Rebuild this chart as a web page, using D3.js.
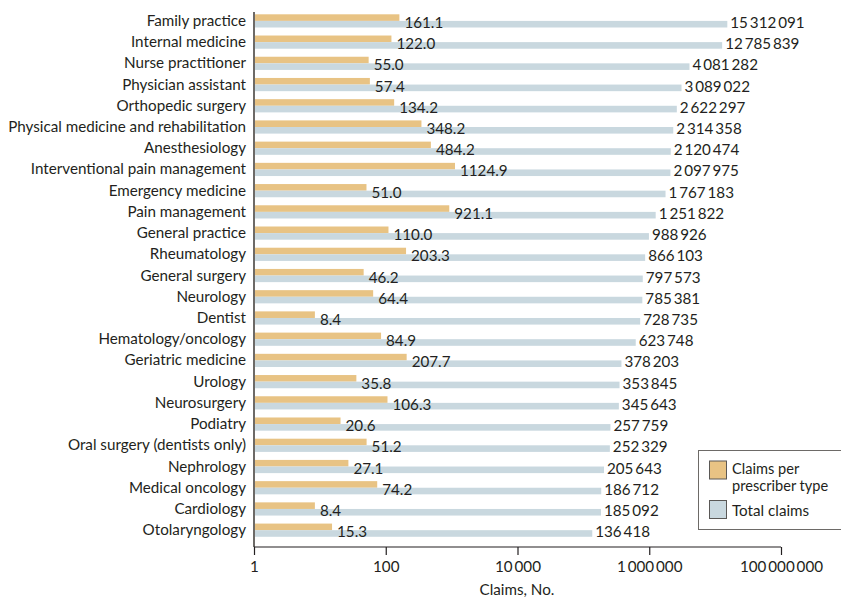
<!DOCTYPE html>
<html>
<head>
<meta charset="utf-8">
<script src="https://cdn.jsdelivr.net/npm/d3@7.9.0/dist/d3.min.js"></script>
<style>
  body { margin: 0; background: #fff; }
  svg { display: block; font-family: Lato, sans-serif; }
  text { fill: #231f20; }
</style>
</head>
<body>
<div id="chart"></div>
<script>
const categories = [
  'Family practice', 'Internal medicine', 'Nurse practitioner', 'Physician assistant',
  'Orthopedic surgery', 'Physical medicine and rehabilitation', 'Anesthesiology',
  'Interventional pain management', 'Emergency medicine', 'Pain management',
  'General practice', 'Rheumatology', 'General surgery', 'Neurology', 'Dentist',
  'Hematology/oncology', 'Geriatric medicine', 'Urology', 'Neurosurgery', 'Podiatry',
  'Oral surgery (dentists only)', 'Nephrology', 'Medical oncology', 'Cardiology',
  'Otolaryngology'
];
const claimsPerPrescriber = [
  161.1, 122.0, 55.0, 57.4, 134.2, 348.2, 484.2, 1124.9, 51.0, 921.1,
  110.0, 203.3, 46.2, 64.4, 8.4, 84.9, 207.7, 35.8, 106.3, 20.6,
  51.2, 27.1, 74.2, 8.4, 15.3
];
const totalClaims = [
  15312091, 12785839, 4081282, 3089022, 2622297, 2314358, 2120474, 2097975, 1767183, 1251822,
  988926, 866103, 797573, 785381, 728735, 623748, 378203, 353845, 345643, 257759,
  252329, 205643, 186712, 185092, 136418
];
const tickValues = [1, 100, 10000, 1000000, 100000000];
const seriesNames = ['Claims per|prescriber type', 'Total claims'];

const data = categories.map((c, i) => ({
  name: c, per: claimsPerPrescriber[i], total: totalClaims[i]
}));

const width = 841, height = 598;
const orange = '#e8c384', grey = '#c9d8df';
const fs = 15.2;

// thousands with thin spaces
const fmtInt = (v) => d3.format(',')(v).replace(/,/g, '\u2009');

const svg = d3.select('#chart').append('svg')
  .attr('width', width).attr('height', height);

const x = d3.scaleLog().domain([1, 1e8]).range([254, 781]);
const y = d3.scaleBand().domain(categories).range([10.5, 541]).paddingInner(0);

const barH = 6.6;
const rowTop = (d) => y(d.name) + 3.8;

// bars
svg.append('g').selectAll('rect').data(data).join('rect')
  .attr('x', x(1)).attr('y', (d) => rowTop(d))
  .attr('width', (d) => x(d.per) - x(1)).attr('height', barH)
  .attr('fill', orange);

svg.append('g').selectAll('rect').data(data).join('rect')
  .attr('x', x(1)).attr('y', (d) => rowTop(d) + barH)
  .attr('width', (d) => x(d.total) - x(1)).attr('height', barH)
  .attr('fill', grey);

// value labels
svg.append('g').selectAll('text').data(data).join('text')
  .attr('x', (d) => x(d.per) + 5)
  .attr('y', (d) => rowTop(d) + barH + 7)
  .attr('font-size', fs)
  .text((d) => d.per.toFixed(1));

svg.append('g').selectAll('text').data(data).join('text')
  .attr('x', (d) => x(d.total) + 3)
  .attr('y', (d) => rowTop(d) + barH + 7)
  .attr('font-size', fs)
  .text((d) => fmtInt(d.total));

// category labels
svg.append('g').selectAll('text').data(data).join('text')
  .attr('x', 246)
  .attr('y', (d) => rowTop(d) + barH + 5)
  .attr('text-anchor', 'end')
  .attr('font-size', fs)
  .text((d) => d.name);

// y axis line
svg.append('line')
  .attr('x1', x(1)).attr('x2', x(1))
  .attr('y1', 12).attr('y2', 547)
  .attr('stroke', '#6d6a67').attr('stroke-width', 2);

// x axis
const xAxis = d3.axisBottom(x)
  .tickValues(tickValues)
  .tickSize(8)
  .tickFormat((d) => fmtInt(d));

const gx = svg.append('g')
  .attr('transform', `translate(0,${547})`)
  .call(xAxis);
gx.select('.domain').attr('stroke', '#231f20').attr('stroke-width', 1.2)
  .attr('d', `M${x(1)},0H${x(1e8)}`);
gx.selectAll('.tick line').attr('stroke', '#231f20').attr('stroke-width', 1.2);
gx.selectAll('.tick text')
  .attr('font-family', 'Lato, sans-serif')
  .attr('font-size', fs).attr('fill', '#231f20').attr('dy', '0.95em');

svg.append('text')
  .attr('x', 517).attr('y', 595)
  .attr('text-anchor', 'middle').attr('font-size', fs)
  .text('Claims, No.');

// legend
const lg = svg.append('g');
lg.append('rect')
  .attr('x', 698.5).attr('y', 450.5).attr('width', 150).attr('height', 79)
  .attr('fill', '#fff').attr('stroke', '#6d6a67').attr('stroke-width', 1);

const legendRows = [
  { color: orange, label: seriesNames[0], top: 461 },
  { color: grey, label: seriesNames[1], top: 500.5 }
];
legendRows.forEach((r) => {
  lg.append('rect')
    .attr('x', 709.5).attr('y', r.top).attr('width', 17).attr('height', 18)
    .attr('fill', r.color).attr('stroke', '#5a5856').attr('stroke-width', 1);
  const lines = r.label.split('|');
  lines.forEach((l, i) => {
    lg.append('text').attr('font-size', lines.length > 1 ? 14.6 : fs)
      .attr('x', 732)
      .attr('y', r.top + (lines.length > 1 ? 13 : 15) + i * 17)
      .text(l);
  });
});
</script>
</body>
</html>
